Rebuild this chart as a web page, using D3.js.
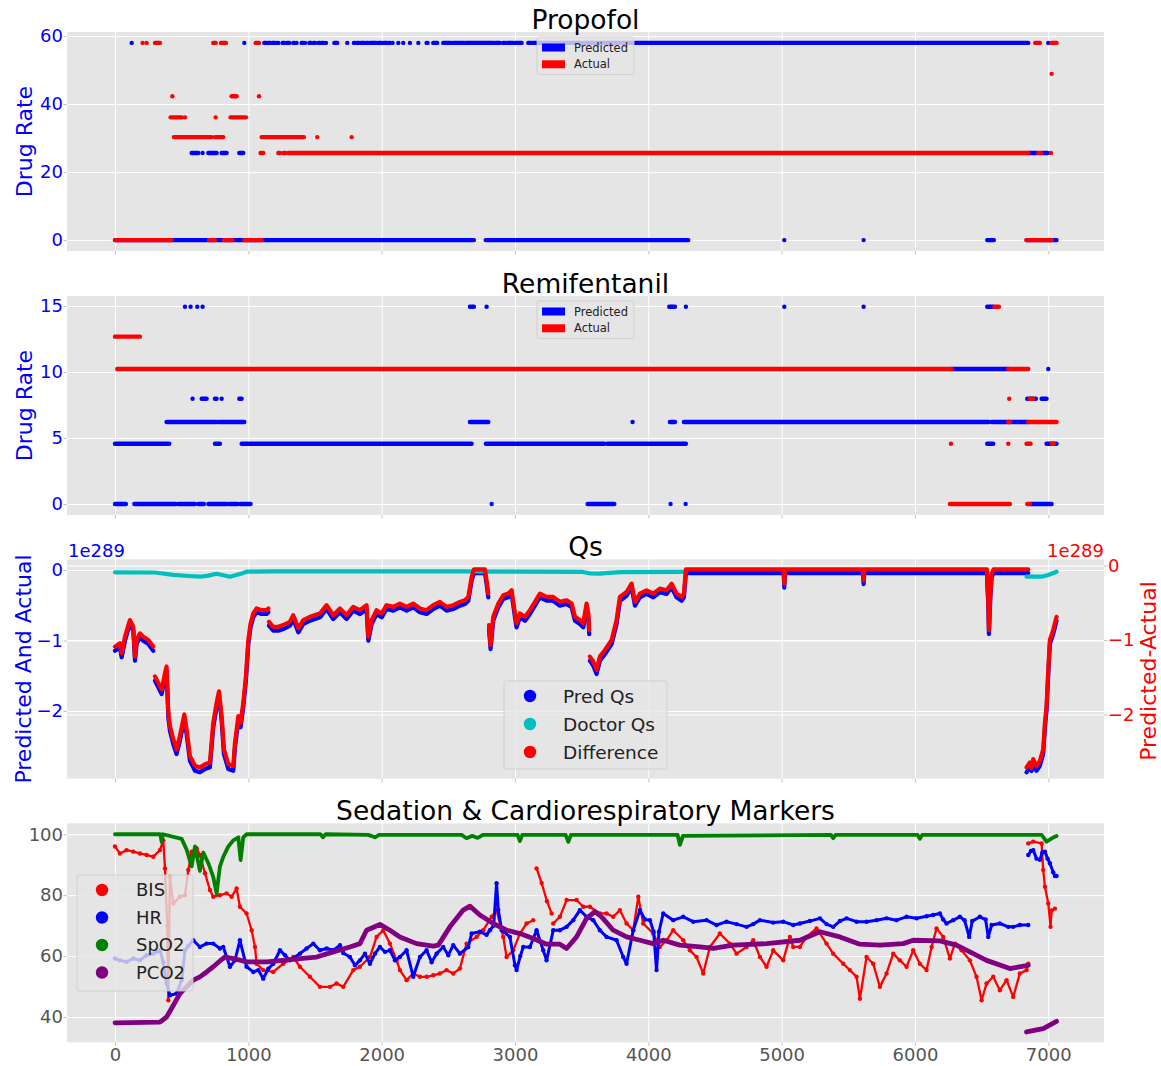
<!DOCTYPE html>
<html><head><meta charset="utf-8">
<script src="https://cdn.jsdelivr.net/npm/d3@7"></script>
<style>body{margin:0;background:#fff;} svg{display:block;font-family:'DejaVu Sans',sans-serif;}</style>
</head><body><svg id="c" width="1161" height="1066"></svg>
<script>
// ---------------- DATA ----------------
const xTicks = [0,1000,2000,3000,4000,5000,6000,7000];
const propTicks = [0,20,40,60];
const remiTicks = [0,5,10,15];
const qsTicks = [0,-1,-2];
const markerTicks = [40,60,80,100];

// Propofol: runs [tStart, tEnd, rate]
const propPredRuns = [
 [0,2692,0],[2780,4300,0],[5020,5020,0],[5615,5615,0],[6542,6592,0],[6837,7062,0],
 [575,625,25.6],[657,657,25.6],[700,762,25.6],[800,837,25.6],[932,962,25.6],[6850,6917,25.6],[6950,6995,25.6],
 [125,125,58],[970,970,58],[1120,1135,58],[1150,1165,58],[1180,1200,58],[1215,1225,58],[1257,1270,58],[1290,1307,58],
 [1337,1345,58],[1362,1362,58],[1400,1410,58],[1425,1425,58],[1457,1470,58],[1490,1500,58],[1525,1535,58],[1550,1562,58],
 [1582,1582,58],[1645,1667,58],[1742,1742,58],[1792,1800,58],[1815,1830,58],[1845,1870,58],[1885,1900,58],[1915,1960,58],
 [1975,2000,58],[2015,2040,58],[2055,2062,58],[2082,2082,58],[2125,2125,58],[2162,2162,58],[2212,2212,58],[2275,2275,58],
 [2337,2345,58],[2387,2417,58],[2462,2520,58],[2535,2612,58],[2625,2837,58],[2850,2887,58],[2912,2925,58],[2940,2987,58],
 [3000,3050,58],[3100,3125,58],[3137,3300,58],[3320,3500,58],[3520,3887,58],[3900,6850,58],[7000,7000,58]
];
const propActRuns = [
 [0,425,0],[705,750,0],[817,880,0],[970,1100,0],[6837,6925,0],[6937,7025,0],
 [207,207,58],[237,237,58],[300,337,58],[737,755,58],[795,832,58],[1055,1080,58],[6902,6937,58],[7025,7062,58],
 [430,430,42.3],[875,912,42.3],[1080,1080,42.3],
 [417,500,36.1],[525,525,36.1],[755,755,36.1],[867,982,36.1],
 [442,725,30.3],[750,812,30.3],[1100,1417,30.3],[1517,1517,30.3],[1775,1775,30.3],
 [1092,1112,25.6],[1225,1237,25.6],[1262,1280,25.6],[1300,6850,25.6],[6925,6945,25.6],[7020,7020,25.6],
 [7025,7025,48.9]
];

// Remifentanil: runs [tStart, tEnd, rate]
const remiPredRuns = [
 [0,82,0],[145,457,0],[475,600,0],[625,667,0],[700,837,0],[850,917,0],[937,1017,0],[2825,2825,0],[3545,3745,0],
 [4167,4167,0],[4280,4280,0],[6867,7025,0],
 [0,407,4.57],[750,787,4.57],[950,2675,4.57],[2782,3670,4.57],[3692,4282,4.57],[6542,6587,4.57],[6987,7062,4.57],
 [387,762,6.21],[775,970,6.21],[2662,2800,6.21],[3882,3882,6.21],[4162,4200,6.21],[4267,6555,6.21],[6575,6850,6.21],
 [582,582,7.98],[650,687,7.98],[750,762,7.98],[800,800,7.98],[932,950,7.98],[6842,6907,7.98],[6950,6987,7.98],
 [525,525,14.95],[567,567,14.95],[617,617,14.95],[657,657,14.95],[2662,2692,14.95],[2787,2787,14.95],[4157,4200,14.95],
 [4282,4282,14.95],[5020,5020,14.95],[5615,5615,14.95],[6542,6587,14.95],
 [6275,6700,10.23],[7000,7000,10.23]
];
const remiActRuns = [
 [0,72,12.68],[87,130,12.68],[145,187,12.68],
 [17,6275,10.23],[6700,6850,10.23],
 [6262,6712,0],[6842,6862,0],
 [6270,6270,4.57],[6700,6700,4.57],[6837,6867,4.57],[7025,7042,4.57],
 [6700,6712,6.21],[6850,7062,6.21],
 [6707,6707,7.98],[6862,6887,7.98],
 [6595,6630,14.95]
];

// Qs (x1e289); null = gap
const qsT = [0,37,50,75,100,112,137,150,162,187,212,250,287,null,
 300,325,350,375,387,400,412,437,462,487,520,537,562,600,637,675,712,737,762,780,800,817,850,887,900,925,942,962,982,1000,1017,1037,1062,1100,1137,1150,null,
 1155,1187,1225,1262,1312,1337,1375,1412,1462,1537,1587,1637,1687,1737,1787,1837,1887,1900,1925,1962,2000,2037,2087,2137,2187,2237,2287,2337,2387,2437,2487,2537,2587,2625,2650,2675,2692,2775,2787,2800,null,
 2805,2817,2837,2875,2912,2950,2975,3000,3012,3037,3075,3112,3150,3187,3237,3287,3337,3387,3425,3450,3487,3512,3537,3550,3557,null,
 3562,3587,3612,3637,3675,3725,3762,3787,3837,3875,3900,3937,3987,4037,4087,4137,4175,4212,4250,4267,4282,5015,5020,5025,5610,5615,5620,6540,6545,6550,6555,6565,6575,6590,6850,null,
 6837,6862,6875,6887,6912,6937,6962,6975,6987,7000,7012,7037,7062];
const qsPred = [-1.145,-1.097,-1.238,-1.003,-0.837,-0.766,-0.861,-1.287,-1.05,-0.955,-1.003,-1.05,-1.145,null,
 -1.57,-1.664,-1.759,-1.522,-1.428,-2.089,-2.279,-2.468,-2.61,-2.421,-2.113,-2.326,-2.705,-2.847,-2.87,-2.823,-2.799,-2.231,-1.948,-1.783,-2.138,-2.61,-2.823,-2.847,-2.515,-2.138,-2.231,-1.948,-1.57,-1.05,-0.813,-0.671,-0.6,-0.624,-0.624,-0.6,null,
 -0.79,-0.861,-0.861,-0.837,-0.79,-0.695,-0.884,-0.766,-0.719,-0.671,-0.553,-0.695,-0.6,-0.695,-0.577,-0.624,-0.553,-1.003,-0.766,-0.624,-0.671,-0.553,-0.577,-0.529,-0.577,-0.529,-0.6,-0.624,-0.553,-0.506,-0.577,-0.553,-0.506,-0.482,-0.436,-0.152,-0.043,-0.043,-0.199,-0.387,null,
 -0.837,-1.121,-0.719,-0.529,-0.411,-0.387,-0.34,-0.671,-0.813,-0.671,-0.719,-0.624,-0.506,-0.387,-0.436,-0.436,-0.506,-0.482,-0.529,-0.719,-0.766,-0.813,-0.529,-0.671,-0.908,null,
 -1.287,-1.357,-1.475,-1.287,-1.191,-1.05,-0.766,-0.436,-0.365,-0.245,-0.506,-0.387,-0.34,-0.387,-0.316,-0.34,-0.245,-0.387,-0.436,-0.387,-0.043,-0.043,-0.25,-0.043,-0.043,-0.2,-0.043,-0.043,-0.294,-0.482,-0.908,-0.41,-0.103,-0.043,-0.043,null,
 -2.87,-2.8,-2.85,-2.752,-2.847,-2.776,-2.61,-2.231,-1.996,-1.475,-1.05,-0.908,-0.719];
const qsDiff = [-1.089,-1.044,-1.177,-0.956,-0.8,-0.733,-0.823,-1.223,-1.0,-0.911,-0.956,-1.0,-1.089,null,
 -1.489,-1.577,-1.667,-1.444,-1.356,-1.977,-2.156,-2.333,-2.467,-2.289,-2.0,-2.2,-2.556,-2.689,-2.711,-2.667,-2.644,-2.111,-1.844,-1.689,-2.023,-2.467,-2.667,-2.689,-2.378,-2.023,-2.111,-1.844,-1.489,-1.0,-0.777,-0.644,-0.577,-0.6,-0.6,-0.577,null,
 -0.756,-0.823,-0.823,-0.8,-0.756,-0.667,-0.844,-0.733,-0.689,-0.644,-0.533,-0.667,-0.577,-0.667,-0.556,-0.6,-0.533,-0.956,-0.733,-0.6,-0.644,-0.533,-0.556,-0.511,-0.556,-0.511,-0.577,-0.6,-0.533,-0.489,-0.556,-0.533,-0.489,-0.467,-0.422,-0.156,-0.053,-0.053,-0.2,-0.377,null,
 -0.8,-1.067,-0.689,-0.511,-0.4,-0.377,-0.333,-0.644,-0.777,-0.644,-0.689,-0.6,-0.489,-0.377,-0.422,-0.422,-0.489,-0.467,-0.511,-0.689,-0.733,-0.777,-0.511,-0.644,-0.867,null,
 -1.223,-1.289,-1.4,-1.223,-1.133,-1.0,-0.733,-0.422,-0.356,-0.244,-0.489,-0.377,-0.333,-0.377,-0.311,-0.333,-0.244,-0.377,-0.422,-0.377,-0.053,-0.053,-0.244,-0.053,-0.053,-0.2,-0.053,-0.053,-0.289,-0.467,-0.867,-0.4,-0.111,-0.053,-0.053,null,
 -2.711,-2.644,-2.72,-2.6,-2.689,-2.622,-2.467,-2.111,-1.889,-1.4,-1.0,-0.867,-0.689];
const docT = [0,300,437,550,637,700,762,862,950,987,1200,2000,2600,3000,3500,3562,3637,3700,3800,4282,null,6837,6950,7000,7062];
const docV = [-0.033,-0.035,-0.07,-0.085,-0.095,-0.08,-0.052,-0.095,-0.05,-0.024,-0.02,-0.02,-0.02,-0.022,-0.025,-0.047,-0.05,-0.04,-0.03,-0.025,null,-0.095,-0.095,-0.07,-0.024];

// Sedation & cardiorespiratory markers
const bisT = [0,37,87,137,187,237,287,337,362,375,392,400,412,437,487,525,550,575,612,637,675,712,737,787,837,875,912,937,987,1025,1050,1062,1112,1187,1262,1337,1387,1462,1537,1612,1662,1712,1787,1837,1912,1962,2012,2062,2112,2137,2187,2237,2287,2337,2387,2437,2487,2537,2587,2637,2712,2762,2825,2862,2912,2937,2987,3037,3087,3137,null,
 3162,3200,3240,3275,null,
 3287,3337,3387,3462,3512,3562,3637,3687,3737,3787,3837,3887,3925,3962,4037,4087,4137,4187,4262,4312,4362,4412,4462,4537,4612,4662,4737,4787,4837,4887,4937,5012,5062,5087,5137,5187,5262,5337,5387,5462,5512,5562,5587,5637,5687,5737,5787,5837,5887,5937,5987,6037,6087,6125,6162,6212,6262,6300,6350,6412,6462,6500,6537,6587,6637,6687,6737,6787,6837,6850,null,
 6850,6887,6950,6962,6975,7000,7017,7025,7050];
const bisV = [96,93.7,94.8,94.3,93.7,93.2,92.6,94.8,98,88.8,70,45.5,86.1,77.3,79.5,80,88.3,94.3,95.4,93.2,87.2,81.7,79.5,80,80.6,79.5,82.2,76.2,74,68.5,63,57.5,55.4,54.8,57.5,59.7,56.5,53.2,49.9,49.9,51,49.9,55.4,56.5,59.7,66.3,68.5,64.1,58.6,55.4,52.1,54.3,53.2,53.2,53.7,54.3,55.4,54.3,55.9,64.1,66.3,68.5,72.9,75.1,66.3,59.7,61.9,67.4,70.7,71.8,null,
 88.8,84,78,74,null,
 70.7,72.9,78.4,78.4,76.2,76.2,74,74,72.9,75.1,70.7,68.5,79.5,70.7,67.4,63,65.2,68.5,65.2,61.9,59.7,54.3,63,67.4,64.1,60.8,63,65.2,59.7,56.5,61.9,58.6,66.3,63,63,66.3,69.1,64.1,60.8,57.5,55.4,53.2,46,59.7,57.5,49.9,54.3,60.8,58.6,56.5,61.9,57.5,55.4,63,69.1,66.3,59.2,64.1,61.9,58.6,53.2,45.5,51,53.2,48.8,52.1,46.6,54.3,55.4,57.5,null,
 97,97.6,97,88.3,82.8,77.3,69.6,75,75.6];
const hrT = [0,37,87,137,187,237,287,312,337,362,387,412,462,500,525,550,587,637,687,737,787,812,862,900,937,987,1037,1075,1112,1150,1187,1237,1275,1312,1387,1437,1487,1537,1587,1637,1687,1712,1762,1800,1837,1875,1912,1950,1987,2025,2062,2100,2137,2187,2237,2287,2337,2375,2412,2462,2500,2537,2587,2650,2675,2737,2787,2812,2840,2862,2875,2900,2962,3000,3012,3040,3062,3112,3162,3212,3237,3287,3337,3387,3437,3487,3537,3587,3637,3687,3762,3812,3837,3887,3937,3975,4012,4040,4062,4080,4112,4187,4262,4337,4437,4512,4587,4662,4737,4787,4837,4937,5012,5087,5137,5212,5287,5337,5387,5437,5487,5562,5637,5712,5787,5862,5937,6012,6087,6137,6187,6212,6237,6287,6337,6372,6407,6430,6487,6530,6550,6575,6637,6700,6737,6787,6850,null,
 6850,6870,6887,6912,6937,6955,6975,6995,7012,7037,7050,7062];
const hrV = [59.2,58.6,58.1,59.2,58.6,60.3,60.8,61.4,61.9,58,51,47.1,47.7,52.1,61.9,63.3,65.2,63,64.1,64.1,62.5,63,56.5,58.6,65.2,56.5,54.8,55.4,52.6,55.9,57.5,61.9,60.3,58.6,60.8,62.5,64.1,61.9,62.5,61.9,63.6,61,59.7,57,58.6,60.8,57.5,60.8,63,61.4,61.9,58.6,59.7,61.9,53.2,59.7,61.9,58,60.8,63,60.3,63.6,60.8,63,67.4,68,67,68.5,70,83.9,75.1,68.5,66.3,57,55.4,60,63,63,68.5,61.9,58.6,68.5,68.5,69.6,71.8,75.1,72.9,71.8,68.5,66.3,65.2,59.7,57.5,68.5,75.1,72,71.8,68,55.4,68,74,71.8,72.9,71.3,71.8,70.2,71.3,70.5,69.6,70.5,71.8,71,71.3,70.2,70.7,71.5,72.4,70.5,69.6,71.5,72.4,71.3,71.3,71.8,72.4,71.8,72.9,72.4,73.1,73.5,74,72,70.7,71.8,72.9,71.8,66.3,71.5,72.9,72,66.3,70.2,70.7,69.6,69.6,70.2,70.2,null,
 93.2,94.5,94.8,92,91.6,94,94.3,92,90.5,87.5,86.3,86.3];
const spo2T = [0,340,350,360,500,537,575,600,637,662,700,737,762,787,812,850,887,925,942,962,987,1540,1560,1580,1900,1950,1980,2600,2637,2680,2720,2760,3020,3037,3055,3380,3400,3420,4220,4237,4260,5370,5387,5405,6020,6037,6055,6950,6987,7020,7040,7062];
const spo2V = [100,100,97.5,100,98.5,95,89.4,96,88,94,90.5,86,80.6,89.4,92.6,96,98,99,91.5,99,100,100,99,100,99.8,99,99.8,99.8,98.7,99.5,98.8,99.8,99.8,97.8,99.8,99.8,97.5,99.8,99.8,96.5,99.5,99.8,98.7,99.8,99.8,98.5,99.8,99.8,97.6,98.5,99,99.4];
const pco2T = [0,337,387,437,487,537,587,637,687,737,787,825,887,987,1137,1262,1387,1512,1637,1762,1837,1887,1987,2062,2137,2262,2387,2425,2512,2612,2662,2737,2837,2937,3037,3137,3237,3337,3387,3462,3537,3600,3650,3737,3837,3937,4037,4112,4237,4387,4487,4637,4887,5137,5287,5437,5587,5737,5912,5987,6187,6312,6412,6537,6712,6850,null,6837,6962,7062];
const pco2V = [38.1,38.3,40,43.8,47.7,49.9,52.1,53.2,54.8,56.5,58.4,59.7,59.2,58.1,58.1,58.6,59.2,59.7,61.4,63,64.1,68.5,70.4,68.5,66.3,64.1,63.3,63.6,69.6,75.1,76.4,73.5,70.7,68.5,67.4,65.8,63.9,63.9,62.5,66.3,72.4,74.6,72.9,68.5,66.3,65.2,64.1,65.2,63.6,63,62.5,63.6,64.1,65.2,68,66.3,63.9,63.6,64.1,65.2,65,63.6,61.4,58.6,55.9,57,null,35.1,36.2,38.6];

// ---------------- DRAWING ----------------
const svg = d3.select('#c');
const FONT = "'DejaVu Sans', sans-serif";
const X0 = 67, X1 = 1104, XC = (X0 + X1) / 2;
const x = d3.scaleLinear().domain([-360, 7418]).range([X0, X1]);
const BLUE = '#0000FF', RED = '#FF0000', CYAN = '#00BFBF', GREEN = '#008000', PURPLE = '#800080';

let clipN = 0;
function panel(top, bottom, yDomain) {
  const y = d3.scaleLinear().domain(yDomain).range([bottom, top]);
  const g = svg.append('g');
  g.append('rect').attr('x', X0).attr('y', top).attr('width', X1 - X0).attr('height', bottom - top).attr('fill', '#E5E5E5');
  const id = 'clip' + (clipN++);
  svg.append('clipPath').attr('id', id).append('rect').attr('x', X0).attr('y', top).attr('width', X1 - X0).attr('height', bottom - top);
  const gx = g.append('g').attr('transform', `translate(0,${bottom})`)
    .call(d3.axisBottom(x).tickValues(xTicks).tickSize(-(bottom - top)).tickFormat(''));
  gx.select('.domain').remove();
  gx.selectAll('line').attr('stroke', '#fff').attr('stroke-width', 1);
  const data = svg.append('g').attr('clip-path', `url(#${id})`);
  return { y, g, top, bottom, data };
}
function yGrid(p, y, ticks) {
  const gy = p.g.append('g').attr('transform', `translate(${X0},0)`)
    .call(d3.axisLeft(y).tickValues(ticks).tickSize(-(X1 - X0)).tickFormat(''));
  gy.select('.domain').remove();
  gy.selectAll('line').attr('stroke', '#fff').attr('stroke-width', 1);
}
function fmt(v) { return v < 0 ? '\u2212' + Math.abs(v) : String(v); }
function yAxisLeft(p, y, ticks, color) {
  const a = svg.append('g').attr('transform', `translate(${X0},0)`)
    .call(d3.axisLeft(y).tickValues(ticks).tickSize(3.5).tickSizeOuter(0).tickPadding(0.5).tickFormat(fmt));
  a.select('.domain').remove();
  a.selectAll('line').attr('stroke', '#999').attr('stroke-width', 0.6);
  a.selectAll('text').attr('fill', color).attr('font-size', 18).attr('font-family', FONT);
}
function yAxisRight(p, y, ticks, color) {
  const a = svg.append('g').attr('transform', `translate(${X1},0)`)
    .call(d3.axisRight(y).tickValues(ticks).tickSize(3.5).tickSizeOuter(0).tickPadding(0.5).tickFormat(fmt));
  a.select('.domain').remove();
  a.selectAll('line').attr('stroke', '#999').attr('stroke-width', 0.6);
  a.selectAll('text').attr('fill', color).attr('font-size', 18).attr('font-family', FONT);
}
function xAxis(p, labels) {
  const a = svg.append('g').attr('transform', `translate(0,${p.bottom})`)
    .call(d3.axisBottom(x).tickValues(xTicks).tickSize(3.5).tickSizeOuter(0).tickPadding(2.5).tickFormat(labels ? d3.format('d') : ''));
  a.select('.domain').remove();
  a.selectAll('line').attr('stroke', '#999').attr('stroke-width', 0.6);
  a.selectAll('text').attr('fill', '#555').attr('font-size', 18).attr('font-family', FONT);
}
function title(p, txt) {
  svg.append('text').attr('x', XC).attr('y', p.top - 3.5).attr('text-anchor', 'middle')
    .attr('font-size', 26.5).attr('font-family', FONT).attr('fill', '#000').text(txt);
}
function yLabel(xPos, yc, txt, color) {
  svg.append('text').attr('transform', `translate(${xPos},${yc}) rotate(-90)`).attr('text-anchor', 'middle')
    .attr('font-size', 22).attr('font-family', FONT).attr('fill', color).text(txt);
}
function drawRuns(p, runs, y, color, w) {
  p.data.append('g').selectAll('line').data(runs).join('line')
    .attr('x1', d => x(d[0])).attr('x2', d => x(d[1]))
    .attr('y1', d => y(d[2])).attr('y2', d => y(d[2]))
    .attr('stroke', color).attr('stroke-width', w).attr('stroke-linecap', 'round');
}
function drawTrace(p, T, V, y, color, w, dotR) {
  const pts = d3.zip(T, V);
  const line = d3.line().defined(d => d[0] != null && d[1] != null).x(d => x(d[0])).y(d => y(d[1]));
  p.data.append('path').attr('d', line(pts)).attr('fill', 'none').attr('stroke', color)
    .attr('stroke-width', w).attr('stroke-linecap', 'round').attr('stroke-linejoin', 'round');
  if (dotR) {
    p.data.append('g').selectAll('circle').data(pts.filter(d => d[0] != null && d[1] != null)).join('circle')
      .attr('cx', d => x(d[0])).attr('cy', d => y(d[1])).attr('r', dotR).attr('fill', color);
  }
}
function legendBox(x0, y0, w, h) {
  svg.append('rect').attr('x', x0).attr('y', y0).attr('width', w).attr('height', h).attr('rx', 2)
    .attr('fill', 'rgba(229,229,229,0.8)').attr('stroke', 'rgba(204,204,204,0.8)').attr('stroke-width', 1);
}
function patchLegend(x0, y0, items) {
  legendBox(x0, y0, 97, 37.5);
  items.forEach((it, i) => {
    const cy = y0 + 10.5 + i * 16.8;
    svg.append('rect').attr('x', x0 + 5).attr('y', cy - 4).attr('width', 23).attr('height', 8).attr('fill', it[1]);
    svg.append('text').attr('x', x0 + 37).attr('y', cy).attr('dy', '0.35em').attr('font-size', 11.5)
      .attr('font-family', FONT).attr('fill', '#222').text(it[0]);
  });
}
function dotLegend(x0, y0, w, h, cx, tx, cys, items, fs) {
  legendBox(x0, y0, w, h);
  items.forEach((it, i) => {
    svg.append('circle').attr('cx', cx).attr('cy', cys[i]).attr('r', 6.2).attr('fill', it[1]);
    svg.append('text').attr('x', tx).attr('y', cys[i]).attr('dy', '0.36em').attr('font-size', fs)
      .attr('font-family', FONT).attr('fill', '#222').text(it[0]);
  });
}

// Panel 1: Propofol
const p1 = panel(32, 251, [-3.2, 61.2]);
yGrid(p1, p1.y, propTicks);
drawRuns(p1, propPredRuns, p1.y, BLUE, 4.4);
drawRuns(p1, propActRuns, p1.y, RED, 4.4);
yAxisLeft(p1, p1.y, propTicks, BLUE);
xAxis(p1, false);
title(p1, 'Propofol');
yLabel(32, (32 + 251) / 2, 'Drug Rate', BLUE);
patchLegend(537, 37, [['Predicted', BLUE], ['Actual', RED]]);

// Panel 2: Remifentanil
const p2 = panel(296, 515, [-0.83, 15.76]);
yGrid(p2, p2.y, remiTicks);
drawRuns(p2, remiPredRuns, p2.y, BLUE, 4.4);
drawRuns(p2, remiActRuns, p2.y, RED, 4.4);
yAxisLeft(p2, p2.y, remiTicks, BLUE);
xAxis(p2, false);
title(p2, 'Remifentanil');
yLabel(32, (296 + 515) / 2, 'Drug Rate', BLUE);
patchLegend(537, 301, [['Predicted', BLUE], ['Actual', RED]]);

// Panel 3: Qs
const p3 = panel(559.3, 778.7, [-2.96, 0.152]);
const y3r = d3.scaleLinear().domain([-2.862, 0.083]).range([778.7, 559.3]);
yGrid(p3, p3.y, qsTicks);
yGrid(p3, y3r, qsTicks);
drawTrace(p3, qsT, qsPred, p3.y, BLUE, 4.2, 0);
drawTrace(p3, docT, docV, p3.y, CYAN, 4.2, 0);
drawTrace(p3, qsT, qsDiff, y3r, RED, 4.2, 0);
yAxisLeft(p3, p3.y, qsTicks, BLUE);
yAxisRight(p3, y3r, qsTicks, RED);
xAxis(p3, false);
title(p3, 'Qs');
svg.append('text').attr('x', 68).attr('y', 557).attr('font-size', 18).attr('font-family', FONT).attr('fill', BLUE).text('1e289');
svg.append('text').attr('x', 1104).attr('y', 557).attr('text-anchor', 'end').attr('font-size', 18).attr('font-family', FONT).attr('fill', RED).text('1e289');
yLabel(30.5, 669, 'Predicted And Actual', BLUE);
yLabel(1156, 671, 'Predicted-Actual', RED);
dotLegend(504, 681, 163, 88, 530, 563, [696, 724, 752], [['Pred Qs', BLUE], ['Doctor Qs', CYAN], ['Difference', RED]], 18.5);

// Panel 4: markers
const p4 = panel(823.3, 1042.3, [31.7, 103.6]);
yGrid(p4, p4.y, markerTicks);
drawTrace(p4, bisT, bisV, p4.y, RED, 2.3, 2.2);
drawTrace(p4, hrT, hrV, p4.y, BLUE, 3, 2.2);
drawTrace(p4, spo2T, spo2V, p4.y, GREEN, 3.8, 0);
drawTrace(p4, pco2T, pco2V, p4.y, PURPLE, 4.8, 0);
yAxisLeft(p4, p4.y, markerTicks, '#555');
xAxis(p4, true);
title(p4, 'Sedation & Cardiorespiratory Markers');
dotLegend(77, 875, 116, 116, 102, 136, [890, 917.5, 945, 972.5], [['BIS', RED], ['HR', BLUE], ['SpO2', GREEN], ['PCO2', PURPLE]], 18);
</script></body></html>
